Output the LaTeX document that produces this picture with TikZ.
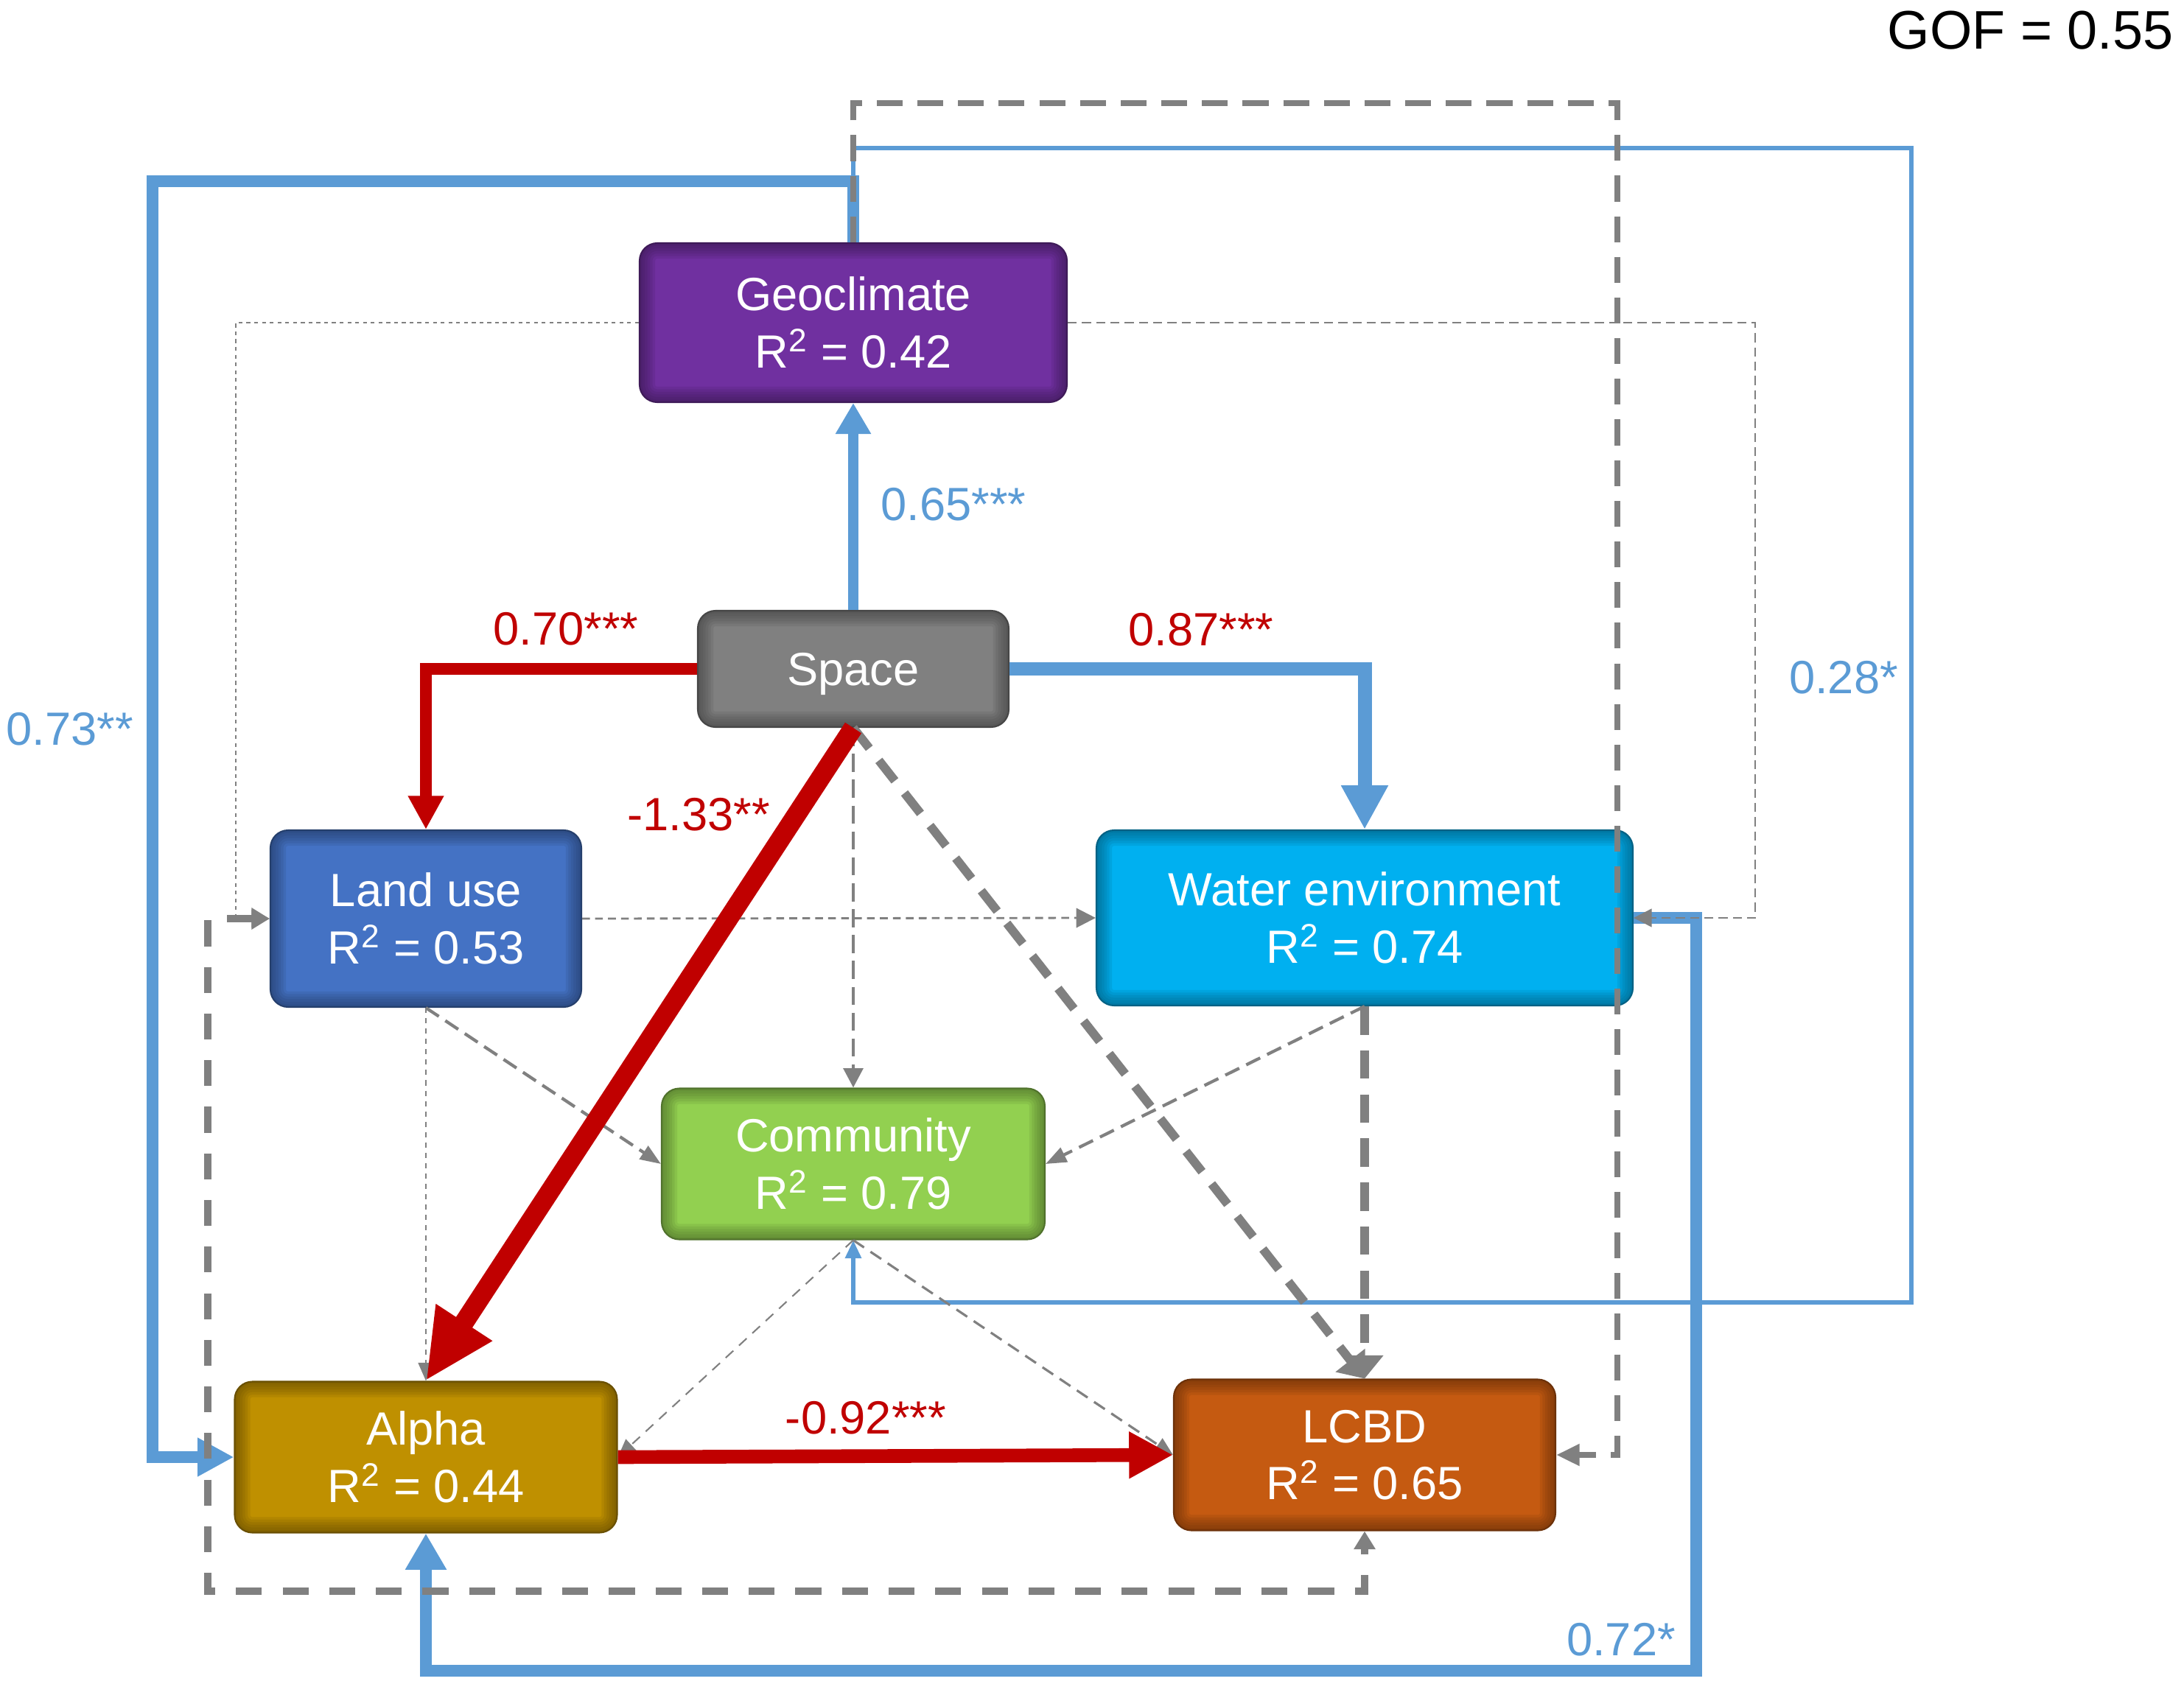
\documentclass[tikz,border=0pt]{standalone}
\usepackage{fontspec}
\setmainfont{Liberation Sans}
\usetikzlibrary{arrows.meta}

\definecolor{geoc}{RGB}{112,48,160}
\definecolor{spacec}{RGB}{128,128,128}
\definecolor{landc}{RGB}{68,114,196}
\definecolor{waterc}{RGB}{0,176,240}
\definecolor{commc}{RGB}{146,208,80}
\definecolor{alphac}{RGB}{191,144,0}
\definecolor{lcbdc}{RGB}{197,90,17}
\definecolor{lblue}{RGB}{91,155,213}
\definecolor{lred}{RGB}{192,0,0}
\definecolor{lgray}{RGB}{128,128,128}

\begin{document}
\begin{tikzpicture}[
        box/.style={rectangle, rounded corners=0.24cm, fill=#1, draw=#1!55!black, line width=0.6pt,
            text=white, align=center, inner sep=0pt, font=\fontsize{18}{22}\selectfont,
            path picture={\foreach \w in {2,4,...,12}
                \draw[#1!45!black, opacity=0.12, line width=\w pt, rounded corners=0.24cm]
                (path picture bounding box.south west) rectangle (path picture bounding box.north east);}},
        lab/.style={font=\fontsize{18}{22}\selectfont, text=#1, inner sep=0pt},
        blueedge/.style={draw=lblue, line width=#1},
        rededge/.style={draw=lred, line width=#1},
        grayedge/.style={draw=lgray, line width=#1}
    ]
    \useasboundingbox (0,0) rectangle (29.64,-22.86);

    \node[box=geoc, minimum width=5.80cm, minimum height=2.16cm] (geo) at (11.58,-4.38) {Geoclimate\\R\textsuperscript{2} = 0.42};
    \node[box=spacec, text depth=0pt, minimum width=4.22cm, minimum height=1.58cm] (space) at (11.58,-9.08) {Space};
    \node[box=landc, minimum width=4.22cm, minimum height=2.40cm] (land) at (5.78,-12.47) {Land use\\R\textsuperscript{2} = 0.53};
    \node[box=waterc, minimum width=7.28cm, minimum height=2.38cm] (water) at (18.52,-12.46) {Water environment\\R\textsuperscript{2} = 0.74};
    \node[box=commc, minimum width=5.20cm, minimum height=2.05cm] (comm) at (11.58,-15.80) {Community\\R\textsuperscript{2} = 0.79};
    \node[box=alphac, minimum width=5.19cm, minimum height=2.05cm] (alpha) at (5.78,-19.78) {Alpha\\R\textsuperscript{2} = 0.44};
    \node[box=lcbdc, minimum width=5.18cm, minimum height=2.05cm] (lcbd) at (18.52,-19.75) {LCBD\\R\textsuperscript{2} = 0.65};

    % long loops round the boxes
    \draw[blueedge=1.7pt, -{Triangle[length=7pt,width=6pt]}] (geo.north) |- (25.94,-2.01) |- (11.58,-17.68) -- (comm.south);
    \draw[blueedge=4.6pt, -{Triangle[length=14pt,width=14pt]}] (geo.north) |- (2.07,-2.46) |- (alpha.west);
    \draw[blueedge=4.4pt, -{Triangle[length=14pt,width=15pt]}] (water.east) -| (23.02,-22.68) -| (alpha.south);
    \draw[grayedge=2.2pt, dash pattern=on 10pt off 5.7pt, -{Triangle[length=9pt,width=8pt]}] (geo.north) |- (21.95,-1.40) |- (lcbd.east);
    \draw[grayedge=0.45pt, dash pattern=on 1.5pt off 1.5pt, -{Triangle[length=7pt,width=7pt]}] (geo.west) -| (3.20,-12.47) -- (land.west);
    \draw[grayedge=0.8pt, dash pattern=on 3.5pt off 2pt, -{Triangle[length=7pt,width=7pt]}] (geo.east) -| (23.82,-12.46) -- (water.east);
    \draw[grayedge=3.1pt, dash pattern=on 10pt off 8pt, {Triangle[length=7pt,width=8pt]}-{Triangle[length=7pt,width=8pt]}] (land.west) -| (2.82,-21.60) -| (lcbd.south);

    % paths out of space
    \draw[blueedge=4pt, -{Triangle[length=12pt,width=13pt]}] (space.north) -- (geo.south);
    \draw[rededge=4.3pt, -{Triangle[length=13pt,width=13pt]}] (space.west) -| (land.north);
    \draw[blueedge=5.4pt, -{Triangle[length=17pt,width=17pt]}] (space.east) -| (water.north);
    \draw[grayedge=1.4pt, dash pattern=on 7pt off 3pt, -{Triangle[length=7.5pt,width=7.5pt]}] (space.south) -- (comm.north);
    \draw[grayedge=3.4pt, dash pattern=on 10pt off 6pt, -{Triangle[length=9pt,width=14pt]}] (space.south) -- (lcbd.north);

    % paths between the lower boxes
    \draw[grayedge=3.6pt, dash pattern=on 11pt off 6pt, -{Triangle[length=9pt,width=14pt]}] (water.south) -- (lcbd.north);
    \draw[grayedge=1.2pt, dash pattern=on 6pt off 3pt, -{Triangle[length=8pt,width=6pt]}] (water.south) -- (comm.east);
    \draw[grayedge=1.2pt, dash pattern=on 6pt off 3pt, -{Triangle[length=8pt,width=6pt]}] (land.south) -- (comm.west);
    \draw[grayedge=0.45pt, dash pattern=on 2pt off 2pt, -{Triangle[length=7pt,width=6pt]}] (land.south) -- (alpha.north);
    \draw[grayedge=0.8pt, dash pattern=on 3pt off 2pt, -{Triangle[length=7.5pt,width=7.5pt]}] (land.east) -- (water.west);
    \draw[grayedge=0.6pt, dash pattern=on 4pt off 3pt, -{Triangle[length=7pt,width=6pt]}] (comm.south) -- (alpha.east);
    \draw[grayedge=0.9pt, dash pattern=on 5pt off 3pt, -{Triangle[length=7pt,width=6pt]}] (comm.south) -- (lcbd.west);
    \draw[rededge=7.5pt, -{Triangle[length=27pt,width=24pt]}] (space.south) -- (alpha.north);
    \draw[rededge=5.3pt, -{Triangle[length=17pt,width=17pt]}] (alpha.east) -- (lcbd.west);

    \node[lab=lblue] (l065) at (12.94,-6.85) {0.65***};
    \node[lab=lred] (l070) at (7.68,-8.54) {0.70***};
    \node[lab=lred] (l087) at (16.30,-8.55) {0.87***};
    \node[lab=lred] (l133) at (9.48,-11.06) {-1.33**};
    \node[lab=lblue] (l073) at (0.95,-9.90) {0.73**};
    \node[lab=lblue] (l028) at (25.02,-9.20) {0.28*};
    \node[lab=lred] (l092) at (11.75,-19.25) {-0.92***};
    \node[lab=lblue] (l072) at (22.00,-22.26) {0.72*};
    \node[lab=black, font=\fontsize{21}{25}\selectfont, anchor=east] (gof) at (29.50,-0.41) {GOF = 0.55};
\end{tikzpicture}
\end{document}
